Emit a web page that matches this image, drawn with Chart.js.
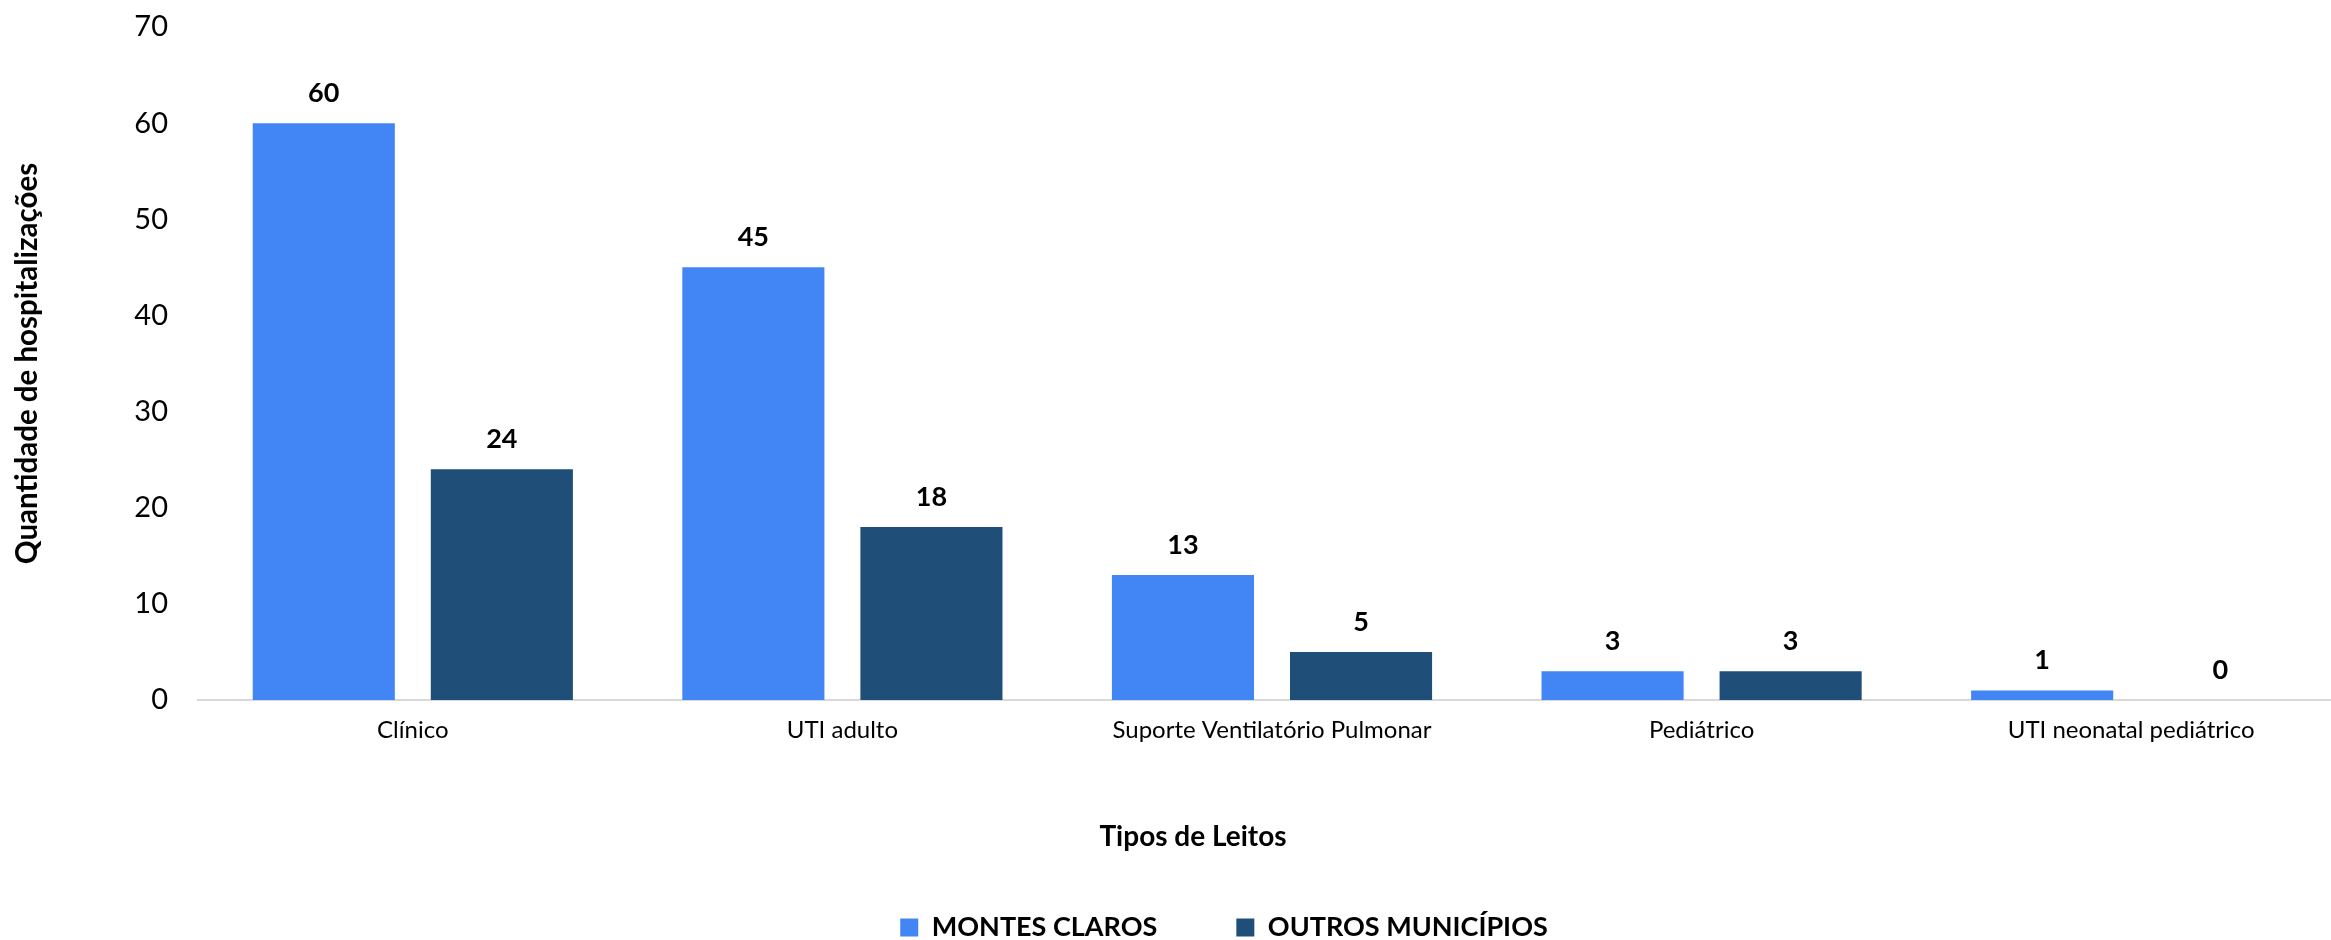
<!DOCTYPE html>
<html>
<head>
<meta charset="utf-8">
<script src="https://cdn.jsdelivr.net/npm/chart.js@4.4.1/dist/chart.umd.min.js"></script>
<style>
  html, body { margin: 0; padding: 0; background: #ffffff; overflow: hidden; }
  #wrap { width: 2346px; height: 940px; position: relative; }
</style>
</head>
<body>
<div id="wrap"><canvas id="chart" width="2346" height="940"></canvas></div>
<script>
// ---- data ----
const categories = ['Clínico', 'UTI adulto', 'Suporte Ventilatório Pulmonar', 'Pediátrico', 'UTI neonatal pediátrico'];
const montesClaros = [60, 45, 13, 3, 1];
const outrosMunicipios = [24, 18, 5, 3, 0];
const seriesNames = ['MONTES CLAROS', 'OUTROS MUNICÍPIOS'];
const yTickValues = [0, 10, 20, 30, 40, 50, 60, 70];
const xAxisTitle = 'Tipos de Leitos';
const yAxisTitle = 'Quantidade de hospitalizações';

// ---- styles ----
const colLight = '#4285F4';
const colDark = '#1F4E79';
const FONT = "Lato, 'Open Sans', 'Liberation Sans', sans-serif";

const valueLabels = {
  id: 'valueLabels',
  afterDatasetsDraw(chart) {
    const ctx = chart.ctx;
    ctx.save();
    ctx.font = "bold 27px " + FONT;
    ctx.fillStyle = '#000000';
    ctx.textAlign = 'center';
    ctx.textBaseline = 'middle';
    chart.data.datasets.forEach((ds, i) => {
      const meta = chart.getDatasetMeta(i);
      meta.data.forEach((bar, j) => {
        ctx.fillText(String(ds.data[j]), bar.x, bar.y - 30);
      });
    });
    ctx.restore();
  }
};

const xTitlePlugin = {
  id: 'xTitlePlugin',
  afterDraw(chart) {
    const ctx = chart.ctx;
    ctx.save();
    ctx.font = "bold 28px " + FONT;
    ctx.fillStyle = '#000000';
    ctx.textAlign = 'center';
    ctx.textBaseline = 'alphabetic';
    ctx.fillText(xAxisTitle, 1193, 846);
    ctx.restore();
  }
};

const legendShift = {
  id: 'legendShift',
  afterLayout(chart) {
    const l = chart.legend;
    if (!l) return;
    l.left += 51; l.right += 51;
    l.top += 11; l.bottom += 11;
  }
};

new Chart(document.getElementById('chart'), {
  type: 'bar',
  data: {
    labels: categories,
    datasets: [
      { label: seriesNames[0], data: montesClaros, backgroundColor: colLight, borderWidth: 0,
        categoryPercentage: 0.829, barPercentage: 0.798 },
      { label: seriesNames[1], data: outrosMunicipios, backgroundColor: colDark, borderWidth: 0,
        categoryPercentage: 0.829, barPercentage: 0.798 }
    ]
  },
  options: {
    responsive: false,
    devicePixelRatio: 1,
    animation: false,
    layout: { padding: { top: 27, right: 0, bottom: 0, left: 0 } },
    plugins: {
      legend: {
        position: 'bottom',
        align: 'center',
        labels: {
          boxWidth: 18, boxHeight: 18, padding: 79,
          color: '#000000',
          font: { family: FONT, size: 27, weight: 'bold' }
        }
      },
      tooltip: { enabled: false },
      title: { display: false }
    },
    scales: {
      x: {
        grid: { display: false, drawTicks: false },
        border: { display: true, color: '#D9D9D9', width: 2 },
        ticks: { color: '#000000', font: { family: FONT, size: 24 }, padding: 16, maxRotation: 0, autoSkip: false },
        afterFit(scale) { scale.height = 124; }
      },
      y: {
        min: 0, max: 70,
        afterBuildTicks(scale) { scale.ticks = yTickValues.map(v => ({ value: v })); },
        grid: { display: false, drawTicks: true, tickLength: 30 },
        border: { display: false },
        ticks: { color: '#000000', font: { family: FONT, size: 29 }, padding: 0 },
        title: { display: true, text: yAxisTitle, color: '#000000',
                 font: { family: FONT, size: 29.5, weight: 'bold' }, padding: { top: 10, bottom: 0 } },
        afterFit(scale) { scale.width = 198; }
      }
    }
  },
  plugins: [valueLabels, xTitlePlugin, legendShift]
});
</script>
</body>
</html>
